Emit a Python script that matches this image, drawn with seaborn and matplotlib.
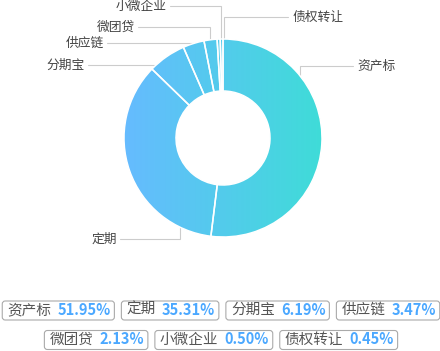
import numpy as np
import matplotlib
matplotlib.use('Agg')
import matplotlib.pyplot as plt
import seaborn as sns
from matplotlib.colors import LinearSegmentedColormap
from matplotlib.patches import FancyBboxPatch

# ---- data ----
categories = ['资产标', '定期', '分期宝', '供应链', '微团贷', '小微企业', '债权转让']
values = [51.95, 35.31, 6.19, 3.47, 2.13, 0.50, 0.45]
pct_labels = [f"{v:.2f}%" for v in values]

# ---- label layout (style) ----
anchor_angles = [51, 206, 317.5, 342.7, 352.7, 358.8, 0.6]   # deg clockwise from top
label_y = [66, 239, 65, 43, 27, 6, 17]
line_end_x = [353, 120, 88, 107, 138, 170, 288]

sns.set_theme(style='white')
plt.rcParams['font.family'] = ['Noto Sans CJK SC', 'DejaVu Sans']

fig = plt.figure(figsize=(4.4, 3.51), dpi=100)
ax = fig.add_axes([0, 0, 1, 1])
cx, cy, R, r_in = 223, 138, 99, 47

wedges, _ = ax.pie(values, startangle=-90, counterclock=True, center=(cx, cy),
                   radius=R,
                   wedgeprops=dict(width=R - r_in, edgecolor='white',
                                   linewidth=1.1, facecolor='none', zorder=3))

cmap = LinearSegmentedColormap.from_list('g', ['#66BBFF', '#3FDCD8'])
grad = np.linspace(0, 1, 256).reshape(1, -1)
for w in wedges:
    im = ax.imshow(grad, cmap=cmap, extent=[cx - R, cx + R, cy + R, cy - R],
                   aspect='auto', zorder=2, interpolation='bilinear')
    im.set_clip_path(w)

ax.set_xlim(0, 440)
ax.set_ylim(351, 0)
ax.set_axis_off()

# leader lines + labels
line_col = '#cccccc'
for name, a, ly, ex in zip(categories, anchor_angles, label_y, line_end_x):
    rad = np.deg2rad(a)
    px = cx + R * np.sin(rad)
    py = cy - R * np.cos(rad)
    ax.plot([px, px, ex], [py, ly, ly], color=line_col, lw=0.8, zorder=1,
            solid_joinstyle='miter')
    if ex > px:
        ax.text(ex + 4, ly, name, ha='left', va='center', fontsize=9.2, color='#444444')
    else:
        ax.text(ex - 3, ly, name, ha='right', va='center', fontsize=9.2, color='#444444')

# legend boxes
renderer = fig.canvas.get_renderer()
rows = [list(range(0, 4)), list(range(4, 7))]
row_y = [310, 339.5]
pad_l, gap, pad_r, box_gap, box_h = 5, 6, 4, 7, 19
for idxs, yc in zip(rows, row_y):
    items = []
    for i in idxs:
        t1 = ax.text(0, yc, categories[i], ha='left', va='center', fontsize=10.5,
                     color='#555555', zorder=5)
        t2 = ax.text(0, yc, pct_labels[i], ha='left', va='center', fontsize=10.5,
                     color='#4BA8FF', fontweight='bold', zorder=5)
        w1 = t1.get_window_extent(renderer).width
        w2 = t2.get_window_extent(renderer).width
        items.append((t1, t2, w1, w2))
    widths = [pad_l + w1 + gap + w2 + pad_r for _, _, w1, w2 in items]
    total = sum(widths) + box_gap * (len(widths) - 1)
    x = 221 - total / 2
    for (t1, t2, w1, w2), bw in zip(items, widths):
        box = FancyBboxPatch((x, yc - box_h / 2 + 0.5), bw, box_h,
                             boxstyle='round,pad=0,rounding_size=3',
                             fc='white', ec='#aaaaaa', lw=0.8, zorder=4)
        ax.add_patch(box)
        t1.set_x(x + pad_l)
        t2.set_x(x + pad_l + w1 + gap)
        x += bw + box_gap

fig.savefig('out.png', dpi=100)
